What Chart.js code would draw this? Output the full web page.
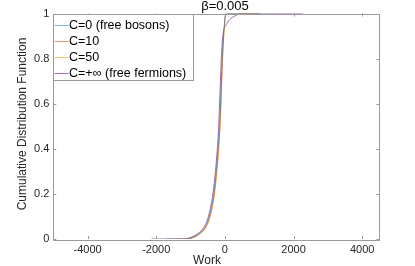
<!DOCTYPE html>
<html>
<head>
<meta charset="utf-8">
<script src="https://cdn.jsdelivr.net/npm/chart.js@4/dist/chart.umd.min.js"></script>
<style>
  html, body { margin: 0; padding: 0; background: #fff; }
  #wrap { width: 415px; height: 266px; }
</style>
</head>
<body>
<div id="wrap"><canvas id="c" width="415" height="266"></canvas></div>
<script>
// CDF levels shared by every series, and the work value where each curve hits them
const cdfLevels = [0, 0, 0.003, 0.02, 0.05, 0.1, 0.2, 0.3, 0.4, 0.5, 0.6, 0.7, 0.8, 0.9, 0.95, 0.99, 1, 1];
const workC0 = [-1700, -1130, -1000, -790, -590, -455, -325, -255, -200, -158, -128, -103, -78, -42, -15, 10, 60, 1050];
const workC10 = [-1450, -1110, -1010, -770, -570, -440, -310, -240, -185, -145, -118, -95, -70, -35, -12, 15, 120, 980];
const workC50 = [-1350, -1090, -990, -750, -555, -425, -300, -232, -178, -140, -112, -90, -66, -32, -10, 20, 90, 900];
const workCinf = [-2140, -1250, -1080, -830, -620, -480, -350, -275, -220, -180, -155, -130, -105, -60, 40, 300, 600, 2270];

const seriesNames = ['C=0 (free bosons)', 'C=10', 'C=50', 'C=+\u221E (free fermions)'];
const xTickValues = [-4000, -2000, 0, 2000, 4000];
const yTickValues = [0, 0.2, 0.4, 0.6, 0.8, 1];

const colors = ['rgba(0,114,189,0.5)', 'rgba(217,83,25,0.6)', 'rgba(237,177,32,0.7)', 'rgba(126,47,142,0.7)'];
const FONT = '"Liberation Sans", Arial, sans-serif';
const AXIS = '#9a9a9a';
const TEXT = '#262626';

function toPoints(xs) {
  return xs.map((x, i) => ({ x: x, y: cdfLevels[i] }));
}

const works = [workC0, workC10, workC50, workCinf];
const datasets = works.map((w, i) => ({
  label: seriesNames[i],
  data: toPoints(w),
  borderColor: colors[i],
  borderWidth: 1,
  pointRadius: 0,
  showLine: true,
  fill: false,
  cubicInterpolationMode: 'monotone',
}));

// box, inward ticks, titles and the legend, matlab style
const matlabAxes = {
  id: 'matlabAxes',
  afterDatasetsDraw(chart) {
    const ctx = chart.ctx;
    const a = chart.chartArea;
    const xs = chart.scales.x, ys = chart.scales.y;
    const tl = 3;
    ctx.save();
    ctx.strokeStyle = AXIS;
    ctx.lineWidth = 1;
    ctx.beginPath();
    ctx.rect(Math.round(a.left) + 0.5, Math.round(a.top) + 0.5,
      Math.round(a.right - a.left), Math.round(a.bottom - a.top));
    xTickValues.forEach(v => {
      const px = Math.round(xs.getPixelForValue(v)) + 0.5;
      ctx.moveTo(px, a.bottom); ctx.lineTo(px, a.bottom - tl);
      ctx.moveTo(px, a.top); ctx.lineTo(px, a.top + tl);
    });
    yTickValues.forEach(v => {
      const py = Math.round(ys.getPixelForValue(v)) + 0.5;
      ctx.moveTo(a.left, py); ctx.lineTo(a.left + tl, py);
      ctx.moveTo(a.right, py); ctx.lineTo(a.right - tl, py);
    });
    ctx.stroke();

    // titles
    ctx.fillStyle = '#000';
    ctx.font = '13px ' + FONT;
    ctx.textAlign = 'center';
    ctx.textBaseline = 'middle';
    ctx.fillText('\u03B2=0.005', 225, 6);
    ctx.fillStyle = TEXT;
    ctx.font = '12px ' + FONT;
    ctx.fillText('Work', 207, 260.5);
    ctx.save();
    ctx.translate(23, 124);
    ctx.rotate(-Math.PI / 2);
    ctx.fillText('Cumulative Distribution Function', 0, 0);
    ctx.restore();

    // legend
    const lx = Math.round(a.left) + 0.5, ly = Math.round(a.top) + 0.5;
    const lw = 140, lh = 66;
    ctx.fillStyle = '#fff';
    ctx.fillRect(lx, ly, lw, lh);
    ctx.strokeStyle = AXIS;
    ctx.strokeRect(lx, ly, lw, lh);
    ctx.font = '12.5px ' + FONT;
    ctx.textAlign = 'left';
    chart.data.datasets.forEach((ds, i) => {
      const cy = Math.round(ly + 10 + i * 16.2) + 0.5;
      ctx.strokeStyle = ds.borderColor;
      ctx.beginPath();
      ctx.moveTo(lx + 1, cy); ctx.lineTo(lx + 15, cy);
      ctx.stroke();
      ctx.fillStyle = '#000';
      ctx.fillText(ds.label, lx + 15.5, cy + 0.5);
    });
    ctx.restore();
  }
};

new Chart(document.getElementById('c').getContext('2d'), {
  type: 'scatter',
  data: { datasets: datasets },
  options: {
    responsive: false,
    animation: false,
    devicePixelRatio: 1,
    layout: { padding: { top: 13.5, right: 35.7, left: 0, bottom: 0 } },
    plugins: { legend: { display: false }, tooltip: { enabled: false }, title: { display: false } },
    scales: {
      x: {
        type: 'linear', min: -5000, max: 4500,
        afterBuildTicks: s => { s.ticks = xTickValues.map(v => ({ value: v })); },
        afterFit: s => { s.height = 27; },
        grid: { display: false, drawTicks: false },
        border: { display: false },
        ticks: { color: TEXT, font: { family: FONT, size: 11 }, padding: 4, maxRotation: 0, callback: v => String(v) },
      },
      y: {
        type: 'linear', min: 0, max: 1,
        afterBuildTicks: s => { s.ticks = yTickValues.map(v => ({ value: v })); },
        afterFit: s => { s.width = 53.3; },
        grid: { display: false, drawTicks: false },
        border: { display: false },
        ticks: { color: TEXT, font: { family: FONT, size: 11 }, padding: 4, callback: v => String(v) },
      },
    },
  },
  plugins: [matlabAxes],
});
</script>
</body>
</html>
